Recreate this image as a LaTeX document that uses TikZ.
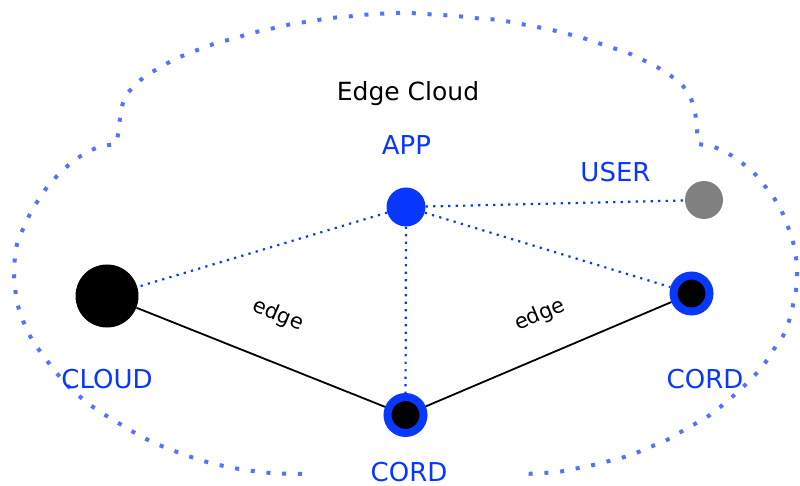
\documentclass[tikz,border=0pt]{standalone}
\usepackage{fontspec}
\setmainfont{DejaVu Sans}
\definecolor{nodeblue}{RGB}{8,56,255}
\definecolor{outlineblue}{RGB}{88,112,255}
\definecolor{usergray}{RGB}{128,128,128}
\tikzset{
  cloudline/.style={draw=outlineblue, line width=4pt, dash pattern=on 4pt off 11.8pt},
  dotlink/.style={draw=nodeblue, line width=2.2pt, dash pattern=on 2.2pt off 5.3pt},
  edgelink/.style={draw=black, line width=1.8pt},
  appnode/.style={circle, fill=nodeblue, minimum size=39pt, inner sep=0pt},
  usernode/.style={circle, fill=usergray, minimum size=38pt, inner sep=0pt},
  cloudnode/.style={circle, fill=black, minimum size=63pt, inner sep=0pt},
  cordnode/.style={circle, fill=black, draw=nodeblue, line width=8pt, minimum size=36pt, inner sep=0pt},
  biglabel/.style={text=nodeblue, font=\fontsize{26}{30}\selectfont, anchor=base, inner sep=0pt},
  titlelabel/.style={text=black, font=\fontsize{25}{30}\selectfont, anchor=base, inner sep=0pt},
  edgelabel/.style={text=black, font=\fontsize{21}{24}\selectfont, inner sep=0pt}
}
\begin{document}
\begin{tikzpicture}[x=1pt,y=-1pt]
\useasboundingbox (0,0) rectangle (800,486);
% cloud outline
\draw[cloudline] plot[smooth] coordinates {(302,474) (271,473) (239,469) (207,462) (177,452) (148,440) (120,424) (93,407) (68,386) (48,362) (30,336) (18,306) (14,273) (17,244) (24,227) (31,212) (39,199) (48,186) (59,174) (71,163) (84,154) (99,147) (116,144)}
 -- plot[smooth] coordinates {(119,130) (121,110) (126,96) (135,85) (147,75) (161,67) (175,59) (190,53) (205,47) (220,42) (236,38) (251,33) (266,30) (282,26) (298,23) (313,21) (329,18) (345,17) (361,15) (377,14) (393,13) (409,13) (425,14) (441,15) (457,16) (473,18) (489,19) (505,21) (521,24) (537,27) (552,30) (568,34) (583,38) (598,43) (613,48) (628,53) (643,60) (657,67) (671,76) (683,86) (691,99) (695,112) (697,130)}
 -- plot[smooth] coordinates {(698,144) (714,147) (729,154) (742,163) (754,173) (764,185) (774,198) (782,212) (788,227) (793,242) (796,257) (797,273) (796,290) (793,305) (789,321) (783,336) (774,349) (765,363) (755,375) (743,387) (732,397) (719,408) (707,417) (693,425) (679,433) (665,441) (650,447) (636,453) (621,458) (605,462) (589,466) (573,469) (558,472) (542,473) (526,474)};
% nodes
\node[appnode] (app) at (406,207) {};
\node[usernode] (user) at (704,200) {};
\node[cloudnode] (cloud) at (107,296) {};
\node[cordnode] (cordb) at (405.5,415) {};
\node[cordnode] (cordr) at (691.5,293.5) {};
% links
\draw[dotlink] (app) -- (cloud);
\draw[dotlink] (app) -- (user);
\draw[dotlink] (app) -- (cordr);
\draw[dotlink] (app) -- (cordb);
\draw[edgelink] (cloud) -- (cordb);
\draw[edgelink] (cordb) -- (cordr);
% labels
\node[titlelabel] (title) at (408,101) {Edge Cloud};
\node[biglabel] (applbl) at (406.5,155) {APP};
\node[biglabel] (userlbl) at (615.5,182) {USER};
\node[biglabel] (cloudlbl) at (107,388) {CLOUD};
\node[biglabel] (cordrlbl) at (705,388) {CORD};
\node[biglabel] (cordblbl) at (409,481) {CORD};
\node[edgelabel, rotate=-23] (edgel) at (278,315) {edge};
\node[edgelabel, rotate=23] (edger) at (540,315) {edge};
\end{tikzpicture}
\end{document}
